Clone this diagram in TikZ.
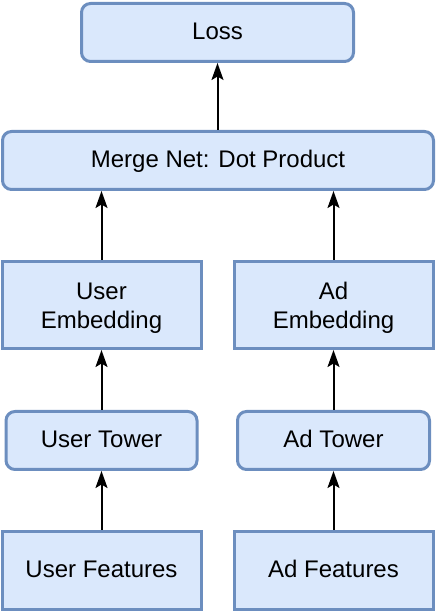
\documentclass[tikz,border=0pt]{standalone}
\usepackage{fontspec}
\setmainfont{Liberation Sans}
\usetikzlibrary{arrows.meta}
\definecolor{boxfill}{HTML}{DAE8FC}
\definecolor{boxline}{HTML}{6C8EBF}
\begin{document}
\begin{tikzpicture}[x=1pt,y=1pt,
  box/.style={draw=boxline, fill=boxfill, line width=3pt, align=center,
    inner sep=0pt, text height=17.4pt, text depth=3pt,
    font=\fontsize{24}{28.7}\selectfont},
  twoline/.style={text height=46.1pt, text depth=-2.7pt},
  rbox/.style={box, rounded corners=9pt},
  arr/.style={draw=black, line width=2pt, -{Stealth[length=17pt,width=12pt,inset=3.5pt]}}]
\useasboundingbox (0,0) rectangle (438,612);
\node[rbox, minimum width=272pt, minimum height=58pt] (loss) at (217.5,579.5) {Loss};
\node[rbox, minimum width=431pt, minimum height=58pt] (mg) at (218,451.5) {Merge Net: Dot Product};
\node[box, twoline, minimum width=199pt, minimum height=87pt] (ue) at (101.5,307) {User\\Embedding};
\node[box, twoline, minimum width=199pt, minimum height=87pt] (ae) at (333.5,307) {Ad\\Embedding};
\node[rbox, minimum width=191pt, minimum height=58pt] (ut) at (101.5,171.5) {User Tower};
\node[rbox, minimum width=192pt, minimum height=58pt] (at) at (333.5,171.5) {Ad Tower};
\node[box, minimum width=199pt, minimum height=78pt] (uf) at (101.5,41.5) {User Features};
\node[box, minimum width=199pt, minimum height=78pt] (af) at (333.5,41.5) {Ad Features};
\draw[arr] (uf.north) -- (ut.south);
\draw[arr] (af.north) -- (at.south);
\draw[arr] (ut.north) -- (ue.south);
\draw[arr] (at.north) -- (ae.south);
\draw[arr] (ue.north) -- (ue.north |- mg.south);
\draw[arr] (ae.north) -- (ae.north |- mg.south);
\draw[arr] (loss.south |- mg.north) -- (loss.south);
\end{tikzpicture}
\end{document}
